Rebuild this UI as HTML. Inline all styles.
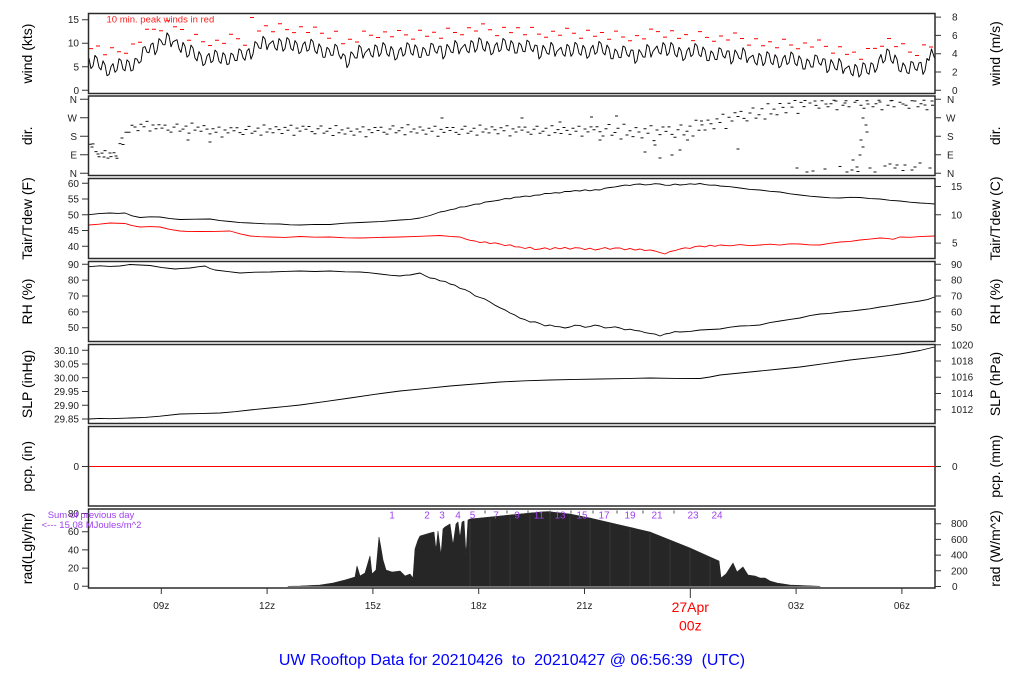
<!DOCTYPE html>
<html><head><meta charset="utf-8">
<style>
html,body{margin:0;padding:0;background:#fff;}
svg{display:block;}
text{font-family:"Liberation Sans",Arial,sans-serif;}
</style></head><body>
<svg width="1024" height="700" viewBox="0 0 1024 700" xmlns="http://www.w3.org/2000/svg">
<rect width="1024" height="700" fill="#fff"/>

<!-- wind peaks (red) -->
<path fill="none" stroke="#ff0000" stroke-width="1" d="M89 48.6h4M96 46h4M103 54.8h4M110 47.8h4M117 51.7h4M124 53.3h4M131 44h4M138 42.3h4M145 29.2h4M152 29.3h4M159 30.7h4M166 20.8h4M173 26.8h4M180 29.5h4M187 40.2h4M194 34.4h4M201 41.7h4M208 45.5h4M215 40.3h4M222 43.4h4M229 34.3h4M236 38.7h4M243 45.3h4M250 17.5h4M257 31h4M264 25.8h4M271 31.7h4M278 23.8h4M285 29.6h4M292 32.6h4M299 26.8h4M306 32.5h4M313 27.1h4M320 33.3h4M327 38.3h4M334 31.2h4M341 43.8h4M348 39.3h4M355 42h4M362 31.1h4M369 35.3h4M376 37.5h4M383 31.9h4M390 36.7h4M397 30.5h4M404 34.9h4M411 39.1h4M418 30.3h4M425 36.3h4M432 32.3h4M439 38.2h4M446 28.3h4M453 32.5h4M460 34.7h4M467 27.8h4M474 31h4M481 23.9h4M488 29.7h4M495 35.6h4M502 27.4h4M509 32.6h4M516 27.8h4M523 34.8h4M530 27.4h4M537 34.1h4M544 37.3h4M551 31.3h4M558 35.3h4M565 28.3h4M572 33.3h4M579 38.3h4M586 30.3h4M593 36.3h4M600 32.5h4M607 39.3h4M614 31.1h4M621 37h4M628 40.8h4M635 35.6h4M642 38.9h4M649 29.1h4M656 31.6h4M663 37.1h4M670 30.7h4M677 38.4h4M684 34.6h4M691 40.6h4M698 31.6h4M705 37.4h4M712 41.2h4M719 36h4M726 40h4M733 33h4M740 38.5h4M747 45.1h4M754 38.8h4M761 45.7h4M768 41.7h4M775 47.7h4M782 39.2h4M789 45h4M796 48.8h4M803 43h4M810 47h4M817 40h4M824 46.4h4M831 53.1h4M838 46.7h4M845 54.4h4M852 52.1h4M859 59.3h4M866 48.5h4M873 48.4h4M880 46.3h4M887 38.5h4M894 46.6h4M901 43.8h4M908 52.1h4M915 55.5h4M922 44.9h4M929 47h4"/>

<!-- wind line -->
<path fill="none" stroke="#000" stroke-width="0.95" stroke-linejoin="round" d="M89 58.2L91 68.6L93 66L95 55.4L97 57.8L99 67.4L101 69.9L103 60.9L105 64.8L107 75.7L109 74.6L111 66.6L113 63.6L115 72.3L117 70L119 58.7L121 60.4L123 69.1L125 70.8L127 59.8L129 61.9L131 71L133 70L135 58.5L137 59.1L139 63.2L141 61.4L143 47.5L145 46.6L147 52.2L149 52.8L151 44.4L153 43L155 54.8L157 50.6L159 38.6L161 40.7L163 44.7L165 44.8L167 32.8L169 35.8L171 46.8L173 41.8L175 40.7L177 39.7L179 48.6L181 52.5L183 42.4L185 46.3L187 57.2L189 55.2L191 45.1L193 48L195 58L197 60.9L199 51.6L201 55.4L203 65.6L205 63.9L207 56.1L209 53.4L211 62.6L213 60.9L215 50.1L217 52.3L219 61.3L221 63.4L223 52.7L225 55.1L227 64.5L229 63.9L231 53.2L233 54.6L235 60.5L237 60.5L239 48.9L241 50.4L243 57.8L245 60.3L247 51L249 48.6L251 59.2L253 53.9L255 41.6L257 43.3L259 47.9L261 48.6L263 36.3L265 39L267 49.7L269 44.4L271 42.5L273 40.7L275 48L277 50.3L279 38.6L281 40.9L283 51.2L285 48.6L287 37.6L289 39.6L291 48.6L293 50.6L295 40.6L297 43.6L299 53.7L301 51.8L303 44.3L305 41.8L307 51.2L309 49.7L311 39.2L313 41.7L315 51.1L317 53.6L319 43.9L321 47.3L323 57.3L325 57.3L327 47.3L329 49.3L331 55.3L333 55.3L335 44.2L337 46.2L339 55L341 58.9L343 53.8L345 55.7L347 67.7L349 63.8L351 51.8L353 53.9L355 57.9L357 58L359 45.2L361 47.5L363 58.2L365 53L367 50.7L369 48.5L371 55.3L373 57.1L375 44.8L377 46.6L379 56.5L381 53.4L383 42.6L385 44.9L387 54.1L389 56.3L391 46.5L393 49.8L395 60L397 58.3L399 50.4L401 47.5L403 56.2L405 54L407 42.7L409 44.5L411 53.3L413 55.1L415 44.8L417 47.6L419 57.4L421 57.3L423 47.3L425 49.3L427 55.3L429 55.3L431 43.3L433 44.3L435 51.3L437 53.3L439 46.2L441 46.2L443 59L445 55.7L447 44.4L449 47.2L451 52L453 52.7L455 40.5L457 43.3L459 54L461 48.8L463 46.5L465 44.3L467 51L469 52.8L471 40.6L473 42.4L475 52.1L477 48.9L479 37.8L481 39.7L483 48.9L485 51.2L487 41.4L489 44.6L491 54.8L493 53.1L495 45.3L497 42.6L499 51.7L501 49.8L503 38.5L505 40.3L507 49L509 50.8L511 40.6L513 43.4L515 53.1L517 52.9L519 42.8L521 44.8L523 51.3L525 51.8L527 40.2L529 41.7L531 49.2L533 51.7L535 45.1L537 45.6L539 59L541 56.3L543 45.3L545 48.3L547 53.3L549 54.3L551 42.3L553 45.3L555 56.3L557 51.3L559 49.3L561 47.3L563 54.3L565 56.3L567 44.3L569 46.3L571 56.3L573 53.3L575 42.3L577 44.3L579 53.3L581 55.3L583 45.3L585 48.3L587 58.3L589 56.3L591 48.3L593 45.3L595 54.3L597 52.3L599 41.4L601 43.4L603 52.7L605 54.9L607 45.1L609 48.3L611 58.6L613 58.8L615 49.1L617 51.3L619 57.5L621 57.7L623 46L625 47.2L627 54.5L629 56.7L631 50L633 50.2L635 63.4L637 60.6L639 49.6L641 52.6L643 56.9L645 57.2L647 44.5L649 46.8L651 57.1L653 51.4L655 48.7L657 46L659 52.6L661 54.1L663 42.6L665 45.1L667 55.6L669 53L671 42.5L673 45L675 54.5L677 56.9L679 47.3L681 50.6L683 60.6L685 58.6L687 50.6L689 47.6L691 56.6L693 54.6L695 43.6L697 45.6L699 54.7L701 56.7L703 47L705 50.2L707 60.5L709 60.7L711 51L713 53.2L715 59.4L717 59.6L719 47.8L721 49L723 56L725 58L727 51L729 51L731 64L733 61L735 50L737 53L739 58.1L741 59.2L743 47.7L745 51.2L747 62.7L749 58.1L751 56.6L753 55.1L755 62.6L757 65L759 53.4L761 55.7L763 65.7L765 62.7L767 51.7L769 53.7L771 62.7L773 64.7L775 54.7L777 57.7L779 67.8L781 65.8L783 58.1L785 55.3L787 64.5L789 62.7L791 52L793 54.2L795 63.5L797 65.7L799 55.9L801 59L803 69L805 69L807 59L809 61L811 67L813 67L815 55L817 56L819 63.1L821 65.2L823 58.7L825 59.2L827 72.7L829 70.1L831 59.6L833 63.1L835 68.6L837 70L839 58.5L841 62L843 73.5L845 68.9L847 67.4L849 65.9L851 73.4L853 75.8L855 64.3L857 66.8L859 77L861 74.3L863 62.8L865 64.3L867 72.8L869 74.3L871 62.8L873 64.3L875 72.4L877 68.5L879 59L881 54.5L883 63L885 60.5L887 49L889 50.5L891 60.5L893 63.4L895 54.9L897 59.3L899 70.6L901 71.9L903 62.9L905 65.8L907 72.7L909 73.6L911 61.5L913 62.4L915 69L917 70.5L919 62.9L921 62.3L923 74.4L925 70.4L927 58.5L929 60.5L931.5 49L934.5 58"/>

<!-- direction dashes -->
<path fill="none" stroke="#111" stroke-width="1" d="M88.8 144.2h3M91.5 143.9h3M94.5 151.6h3M97.5 156.8h3M100.5 153.1h3M103.5 150.6h3M106.5 158.1h3M109.5 156.6h3M112.5 152.8h3M115.5 158.2h3M118.5 143.6h3M121.5 144.5h3M124.5 132.2h3M127.5 132.3h3M130.5 125.2h3M133.5 127h3M136.5 130.6h3M139.5 124.2h3M142.5 126.8h3M145.5 121.4h3M148.5 131h3M151.5 125h3M154.5 128.8h3M157.5 124.8h3M160.5 128.1h3M163.5 125.1h3M166.5 130.1h3M169.5 132.1h3M172.5 127.1h3M175.5 124.1h3M178.5 131.1h3M181.5 129.1h3M184.5 126.1h3M187.5 133.1h3M190.5 123.1h3M193.5 130.1h3M196.5 127.1h3M199.5 131.2h3M202.5 125.6h3M205.5 129.1h3M208.5 133.9h3M211.5 128.7h3M214.5 132.2h3M217.5 127.1h3M220.5 137h3M223.5 130h3M226.5 132.9h3M229.5 127.8h3M232.5 130.7h3M235.5 127.7h3M238.5 132.6h3M241.5 134.5h3M244.5 129.5h3M247.5 126.4h3M250.5 133.3h3M253.5 131.2h3M256.5 128.1h3M259.5 135.1h3M262.5 125h3M265.5 132h3M268.5 128.9h3M271.5 132.8h3M274.5 126.7h3M277.5 129.6h3M280.5 133.5h3M283.5 127.4h3M286.5 130.3h3M289.5 125.3h3M292.5 135.2h3M295.5 128.1h3M298.5 131.1h3M301.5 126.2h3M304.5 129.3h3M307.5 126.5h3M310.5 131.6h3M313.5 133.7h3M316.5 128.8h3M319.5 126h3M322.5 133.1h3M325.5 131.2h3M328.5 128.4h3M331.5 135.5h3M334.5 125.6h3M337.5 132.7h3M340.5 129.9h3M343.5 134h3M346.5 128.1h3M349.5 131.2h3M352.5 135.1h3M355.5 129h3M358.5 131.9h3M361.5 126.9h3M364.5 136.8h3M367.5 129.7h3M370.5 132.6h3M373.5 127.5h3M376.5 130.5h3M379.5 127.3h3M382.5 132.2h3M385.5 134.1h3M388.5 129h3M391.5 125.9h3M394.5 132.8h3M397.5 130.7h3M400.5 127.7h3M403.5 134.8h3M406.5 124.8h3M409.5 131.9h3M412.5 129h3M415.5 133h3M418.5 127h3M421.5 130.1h3M424.5 134.1h3M427.5 128.2h3M430.5 131.2h3M433.5 126.3h3M436.5 136.3h3M439.5 129.4h3M442.5 132.4h3M445.5 127.5h3M448.5 130.5h3M451.5 127.5h3M454.5 132.4h3M457.5 134.4h3M460.5 129.3h3M463.5 126.3h3M466.5 133.3h3M469.5 131.2h3M472.5 128.2h3M475.5 135.1h3M478.5 125.1h3M481.5 132h3M484.5 129h3M487.5 132.9h3M490.5 126.9h3M493.5 129.8h3M496.5 133.7h3M499.5 127.7h3M502.5 130.7h3M505.5 125.8h3M508.5 135.9h3M511.5 128.9h3M514.5 132h3M517.5 127h3M520.5 130.1h3M523.5 127.1h3M526.5 132.1h3M529.5 134.2h3M532.5 129.2h3M535.5 126.2h3M538.5 133.2h3M541.5 131.2h3M544.5 128.2h3M547.5 135.2h3M550.5 125.7h3M553.5 132.6h3M556.5 129.6h3M559.5 133.5h3M562.5 127.5h3M565.5 130.4h3M568.5 134.4h3M571.5 128.3h3M574.5 131.2h3M577.5 126.2h3M580.5 136.1h3M583.5 129h3M586.5 131.9h3M589.5 126.9h3M592.5 129.8h3M595.5 126.8h3M598.5 131.7h3M601.5 136h3M604.5 128.7h3M607.5 124.5h3M610.5 135.2h3M613.5 132.5h3M616.5 128.2h3M619.5 139h3M622.5 124.2h3M625.5 135h3M628.5 130.7h3M631.5 136.6h3M634.5 127.6h3M637.5 132h3M640.5 137.9h3M643.5 128.8h3M646.5 133.3h3M649.5 125.7h3M652.5 140.6h3M655.5 130h3M658.5 134.6h3M661.5 127h3M664.5 131.4h3M667.5 126.9h3M670.5 134.4h3M673.5 137.3h3M676.5 129.7h3M679.5 125h3M682.5 134.9h3M685.5 131.3h3M688.5 126.1h3M691.5 136h3M694.5 120.3h3M697.5 130.2h3M700.5 124.9h3M703.5 130h3M706.5 120.1h3M709.5 123.7h3M712.5 128.8h3M715.5 118.9h3M718.5 122.5h3M721.5 114.3h3M724.5 128.5h3M727.5 117.3h3M730.5 121h3M733.5 112.8h3M736.5 116.5h3M739.5 111.4h3M742.5 118.4h3M745.5 120.9h3M748.5 113h3M751.5 108h3M754.5 118.1h3M757.5 114.7h3M760.5 108.8h3M763.5 119h3M766.5 103.7h3M769.5 113.9h3M772.5 109.1h3M775.5 114.8h3M778.5 103.5h3M781.5 107.4h3M784.5 112.8h3M787.5 103.2h3M790.5 107.1h3M793.5 100.5h3M796.5 113.4h3M799.5 102.4h3M802.5 106.6h3M805.5 172h3M808.5 103h3M811.5 171h3M814.5 105.4h3M817.5 108.1h3M820.5 100.8h3M823.5 169h3M826.5 106.8h3M829.5 103.8h3M832.5 100.3h3M835.5 109.8h3M838.5 166.5h3M841.5 105.3h3M844.5 100.8h3M847.5 106.8h3M850.5 170h3M853.5 102.3h3M856.5 171.5h3M859.5 105.3h3M862.5 108.3h3M865.5 100.8h3M868.5 168h3M871.5 106.8h3M874.5 103.8h3M877.5 100.3h3M880.5 109.8h3M883.5 166h3M886.5 105.3h3M889.5 100.8h3M892.5 106.8h3M895.5 165h3M898.5 102.3h3M901.5 170.5h3M904.5 105.3h3M907.5 108.3h3M910.5 100.8h3M913.5 167h3M916.5 106.8h3M919.5 103.8h3M922.5 100.3h3M925.5 109.8h3M928.5 168h3M931 105.3h3M861.5 118h3M865.5 132h3M861.5 147h3M858.5 155h3M851.5 160h3M855.5 167h3M864.5 125h3M859.5 140h3M795.5 168h3M805.5 172h3M845.5 172h3M736.5 149h3M643.5 152h3M658.5 158h3M670.5 155h3M653.5 145h3M678.5 150h3M208.5 142h3M186.5 140h3M598.5 140h3M558.5 122h3M888.5 164h3M893.5 168h3M903.5 165h3M910.5 170h3M873.5 172h3M918.5 163h3M803.5 100.5h3M813.5 101h3M824.5 104h3M834.5 101h3M843.5 103h3M855.5 100.5h3M866.5 104h3M878.5 102h3M890.5 100.5h3M901.5 104h3M913.5 101h3M923.5 105h3M930.5 101h3M90.5 147h3M96.5 154h3M102.5 157h3M108.5 153h3M114.5 156h3M120.5 138h3M440.5 118h3M520.5 118h3M590 117h3M615 116h3M700 121h3M686 140h3"/>

<!-- Tair -->
<path fill="none" stroke="#000" stroke-width="0.9" stroke-linejoin="round" d="M89 214.7L99 213.6L110 213L118 213.4L125 213L132 215.8L140 217.5L150 216.8L160 217L170 218.6L180 219.5L195 219.2L210 219L220 220.6L230 221.5L240 222.6L250 223L265 223.8L280 224L290 224.8L300 225L315 224.4L330 224.5L345 223.2L360 222.5L380 221.6L400 220L410 219.4L420 218L430 215.5L440 212L445 211.2L450 209.8L455 208.9L460 207L465 206.8L470 205.6L475 204.2L480 204L485 202.1L490 201.5L495 200.8L500 200L505 198.6L510 198.8L515 197.2L520 197L525 196.1L530 196.4L535 195.2L540 195L545 193.4L550 193.6L555 192.7L560 193L565 191.4L570 191.5L575 190.6L580 191L585 189.8L590 190.8L595 189.7L600 190L605 188.2L610 187.5L615 186.9L620 186L625 185.1L630 185.4L635 184.3L640 184L645 184.9L650 184.6L655 183.7L660 184L665 185.2L670 185.3L675 184.1L680 185L685 184.6L690 183.8L695 184.3L700 183.5L705 184.6L710 185.2L715 185.1L720 186L730 186.7L740 188L750 189.4L760 190L770 191.3L780 192L790 193.8L800 195L810 196.2L820 197L830 197.8L840 198L850 197.3L860 197.5L870 198.6L880 199L890 200.3L900 201L910 202.2L920 203L928 203.4L934.5 204"/>

<!-- Tdew -->
<path fill="none" stroke="#ff0000" stroke-width="0.9" stroke-linejoin="round" d="M89 225L99 224.2L110 223L125 223.5L132 225.6L140 227L150 226.6L160 227L170 229.4L180 231L190 231.6L200 231.5L215 231.4L230 231L240 233.8L250 236L260 236.7L270 237L285 237.4L300 236.5L315 237.2L330 237L345 237.8L360 238L380 237.4L400 237L420 236.3L440 235.5L450 236.4L460 237L465 238.8L470 240.3L475 241L480 242.6L485 241.8L490 243.6L495 242.8L500 244L505 245.6L510 244.8L515 246.8L520 247L525 248.5L530 247.2L535 249.6L540 249L545 247.8L550 249.5L555 247.6L560 248.8L565 247.4L570 249.2L575 247.7L580 248L585 249.6L590 248.2L595 250L600 249L605 247.6L610 249.3L615 247.9L620 248L625 249.8L630 248.4L635 250.1L640 249L645 250.6L650 249.9L655 251L660 252.6L665 254L670 251.5L675 250.6L680 249L685 247.8L690 248.4L695 246.6L700 246L705 246.9L710 245.2L715 246.3L720 245L730 245.8L740 244.6L750 245.7L760 245L770 244.2L780 245.1L790 243.8L800 244L810 244.9L820 245L830 243.3L840 242L850 241.4L860 240L870 239.1L880 238L887 238.4L893 239.3L900 237L910 237.3L920 236.6L934.5 236"/>

<!-- RH -->
<path fill="none" stroke="#000" stroke-width="0.9" stroke-linejoin="round" d="M89 266.7L100 265.8L110 266.4L120 266L130 264.5L140 265L150 265.5L162 267.6L175 269L182 268.4L190 268L198 266.8L205 266L210 268.5L215 270L228 271.6L240 273L255 272.2L270 272L285 271.4L300 271L315 271.5L330 271L345 271.8L360 272L370 272.8L380 274L390 275.2L400 276L405 275.2L410 275L415 274L420 273L425 275.6L430 278L435 278.6L440 280.8L445 281.4L450 284L455 285.2L460 288.4L465 289.6L470 292L475 295.8L480 297.5L485 299.1L490 302L495 305.2L500 307.8L505 309.9L510 313L515 315.1L520 318.2L525 319.6L530 322L535 321.8L540 323.6L545 325.9L550 325L555 326.4L560 326.8L565 328L570 327L575 325.2L580 325.6L585 327.3L590 326.6L595 325.1L600 326L605 327.9L610 327.6L615 326.8L620 328L625 329.8L630 329.2L635 330.4L640 331L645 332.6L650 333.4L655 334.1L660 336L665 334L670 333.2L675 331.6L680 332L690 331.4L700 330L710 329.5L720 329L730 327.2L740 326L750 325.7L760 325L770 322.6L780 321L790 319.4L800 318L810 315.6L820 314L830 313.4L840 312L850 311.2L860 310L870 308.8L880 307L890 305.7L900 304L910 302.6L920 301L928 299.4L934.5 297"/>

<!-- SLP -->
<path fill="none" stroke="#000" stroke-width="0.9" stroke-linejoin="round" d="M89 419L100 418.4L110 418.7L130 418L145 417.4L160 416.2L180 414L200 413.6L220 413L235 411.7L250 410L270 408L285 406.6L300 405L325 401.6L350 398L375 394.3L400 391L425 388.6L450 386L475 384L500 382L525 380.8L550 380L575 379.4L600 379L625 378.6L650 378L675 378.4L700 378.5L710 377L720 375L740 373L760 371L780 369L800 367L825 363.6L850 360L875 357.2L900 354L920 350.5L934.5 347"/>

<!-- radiation -->
<path fill="#262626" stroke="#262626" stroke-width="0.6" stroke-linejoin="round" d="M288 586.3L300 586L320 585L333 583L345 580L355 577L357 566L360 576L365 573L370 556L372 574L376 570L379 537L381 548L383 560L386 570L392 572L400 571L405 576L410 574L413 578L415 549L418 540L420 536L430 533L434 532L436 550L438 531L441 555L443 529L445 527L450 524L453 545L456 524L458 522L460 538L462 522L464 521L466 555L468 520L470 519L500 516L520 514L540 512L548 511.5L570 514L590 518L620 525L650 532L670 540L690 548L710 557L719 561L721 578L726 574L733 563L737 572L743 567L748 575L755 576L760 578L765 578L770 581L777 583L790 585L820 586.3Z"/>
<path fill="none" stroke="#4a4a4a" stroke-width="0.5" d="M470 521V586M490 519V586M510 517V586M530 515V586M550 514V586M570 516V586M590 520V586M610 524V586M630 529V586M650 534V586M670 542V586M690 550V586M710 559V586"/>

<!-- panel boxes -->
<g fill="none" stroke="#2a2a2a" stroke-width="1.5">
<rect x="88.5" y="13.5" width="846.5" height="80"/>
<rect x="88.5" y="96" width="846.5" height="79.5"/>
<rect x="88.5" y="178.5" width="846.5" height="80"/>
<rect x="88.5" y="261.5" width="846.5" height="80"/>
<rect x="88.5" y="344.5" width="846.5" height="79"/>
<rect x="88.5" y="426.5" width="846.5" height="79.5"/>
<rect x="88.5" y="509" width="846.5" height="79"/>
</g>

<!-- pcp line -->
<line x1="89" y1="466.5" x2="935" y2="466.5" stroke="#ff0000" stroke-width="1"/>

<!-- left ticks -->
<g stroke="#333" stroke-width="1">
<path d="M82 90.3H88.5M82 66.75H88.5M82 43.2H88.5M82 19.7H88.5"/>
<path d="M80 173.3H88.5M80 154.8H88.5M80 136.3H88.5M80 117.8H88.5M80 99.3H88.5"/>
<path d="M82 246.3H88.5M82 230.55H88.5M82 214.8H88.5M82 199.05H88.5M82 183.3H88.5"/>
<path d="M82 327.7H88.5M82 311.85H88.5M82 296H88.5M82 280.15H88.5M82 264.3H88.5"/>
<path d="M82 419H88.5M82 405.3H88.5M82 391.5H88.5M82 377.8H88.5M82 364H88.5M82 350.3H88.5"/>
<path d="M82 466.5H88.5"/>
<path d="M82 586.3H88.5M82 568.1H88.5M82 549.9H88.5M82 531.7H88.5M82 513.5H88.5"/>
</g>
<!-- right ticks -->
<g stroke="#333" stroke-width="1">
<path d="M935 90.3H941M935 72H941M935 53.7H941M935 35.4H941M935 17.1H941"/>
<path d="M935 173.3H941M935 154.8H941M935 136.3H941M935 117.8H941M935 99.3H941"/>
<path d="M935 243.15H941M935 214.8H941M935 186.45H941"/>
<path d="M935 327.7H941M935 311.85H941M935 296H941M935 280.15H941M935 264.3H941"/>
<path d="M935 409.7H941M935 393.5H941M935 377.2H941M935 361H941M935 344.8H941"/>
<path d="M935 466.5H941"/>
<path d="M935 586.5H941M935 570.8H941M935 555.1H941M935 539.4H941M935 523.7H941"/>
</g>
<!-- bottom ticks -->
<g stroke="#333" stroke-width="1">
<path d="M161.3 588V594M267.1 588V594M372.9 588V594M478.7 588V594M584.5 588V594M690.3 588V598M796.1 588V594M901.9 588V594"/>
</g>

<!-- left tick labels -->
<g font-size="10" fill="#222" text-anchor="end">
<text x="79" y="93.8">0</text><text x="79" y="70.25">5</text><text x="79" y="46.7">10</text><text x="79" y="23.2">15</text>
<text x="77" y="176.8">N</text><text x="77" y="158.3">E</text><text x="77" y="139.8">S</text><text x="77" y="121.3">W</text><text x="77" y="102.8">N</text>
<text x="79" y="249.8">40</text><text x="79" y="234.05">45</text><text x="79" y="218.3">50</text><text x="79" y="202.55">55</text><text x="79" y="186.8">60</text>
<text x="79" y="331.2">50</text><text x="79" y="315.35">60</text><text x="79" y="299.5">70</text><text x="79" y="283.65">80</text><text x="79" y="267.8">90</text>
<text x="79" y="422.5">29.85</text><text x="79" y="408.8">29.90</text><text x="79" y="395">29.95</text><text x="79" y="381.3">30.00</text><text x="79" y="367.5">30.05</text><text x="79" y="353.8">30.10</text>
<text x="79" y="470">0</text>
<text x="79" y="589.8">0</text><text x="79" y="571.6">20</text><text x="79" y="553.4">40</text><text x="79" y="535.2">60</text><text x="79" y="517">80</text>
</g>
<!-- right tick labels -->
<g font-size="10" fill="#222" text-anchor="start">
<text x="952" y="93.8">0</text><text x="952" y="75.5">2</text><text x="952" y="57.2">4</text><text x="952" y="38.9">6</text><text x="952" y="20.6">8</text>
<text x="947" y="176.8">N</text><text x="947" y="158.3">E</text><text x="947" y="139.8">S</text><text x="946" y="121.3">W</text><text x="947" y="102.8">N</text>
<text x="952" y="246.65">5</text><text x="951" y="218.3">10</text><text x="951" y="189.95">15</text>
<text x="951" y="331.2">50</text><text x="951" y="315.35">60</text><text x="951" y="299.5">70</text><text x="951" y="283.65">80</text><text x="951" y="267.8">90</text>
<text x="951" y="413.2">1012</text><text x="951" y="397">1014</text><text x="951" y="380.7">1016</text><text x="951" y="364.5">1018</text><text x="951" y="348.3">1020</text>
<text x="952" y="470">0</text>
<text x="952" y="590">0</text><text x="951" y="574.3">200</text><text x="951" y="558.6">400</text><text x="951" y="542.9">600</text><text x="951" y="527.2">800</text>
</g>

<!-- axis titles -->
<g font-size="14" fill="#000" text-anchor="middle">
<text transform="translate(32,53.5) rotate(-90)">wind (kts)</text>
<text transform="translate(32,135.8) rotate(-90)">dir.</text>
<text transform="translate(32,218.5) rotate(-90)">Tair/Tdew (F)</text>
<text transform="translate(32,301.5) rotate(-90)">RH (%)</text>
<text transform="translate(32,384) rotate(-90)">SLP (inHg)</text>
<text transform="translate(32,466.3) rotate(-90)">pcp. (in)</text>
<text transform="translate(32,548.5) rotate(-90)">rad(Lgly/hr)</text>
<text transform="translate(1000,53.5) rotate(-90)">wind (m/s)</text>
<text transform="translate(1000,135.8) rotate(-90)">dir.</text>
<text transform="translate(1000,218.5) rotate(-90)">Tair/Tdew (C)</text>
<text transform="translate(1000,301.5) rotate(-90)">RH (%)</text>
<text transform="translate(1000,384) rotate(-90)">SLP (hPa)</text>
<text transform="translate(1000,466.3) rotate(-90)">pcp. (mm)</text>
<text transform="translate(1000,548.5) rotate(-90)">rad (W/m^2)</text>
</g>

<!-- x labels -->
<g font-size="10" fill="#222" text-anchor="middle">
<text x="161.3" y="609">09z</text><text x="267.1" y="609">12z</text><text x="372.9" y="609">15z</text>
<text x="478.7" y="609">18z</text><text x="584.5" y="609">21z</text>
<text x="796.1" y="609">03z</text><text x="901.9" y="609">06z</text>
</g>
<g font-size="14" fill="#ff0000" text-anchor="middle">
<text x="690.3" y="612">27Apr</text>
<text x="690.3" y="630.5">00z</text>
</g>

<text x="512" y="665" font-size="16" fill="#0000ff" text-anchor="middle" style="white-space:pre" xml:space="preserve">UW Rooftop Data for 20210426  to  20210427 @ 06:56:39  (UTC)</text>

<text x="106.5" y="22.5" font-size="9.5" fill="#ff2020">10 min. peak winds in red</text>

<!-- radiation annotations -->
<g font-size="9.5" fill="#a040f0" text-anchor="middle">
<text x="91" y="518">Sum of previous day</text>
<text x="91.5" y="528">&lt;--- 15.08 MJoules/m^2</text>
</g>
<g font-size="10" fill="#a040f0" text-anchor="middle">
<text x="392" y="518.3">1</text><text x="427" y="518.3">2</text><text x="442" y="518.3">3</text><text x="458" y="518.3">4</text>
<text x="472.5" y="518.3">5</text><text x="496" y="518.3">7</text><text x="517" y="518.3">9</text><text x="539" y="518.3">11</text>
<text x="560" y="518.3">13</text><text x="582" y="518.3">15</text><text x="604" y="518.3">17</text><text x="630" y="518.3">19</text>
<text x="657" y="518.3">21</text><text x="693" y="518.3">23</text><text x="717" y="518.3">24</text>
</g>
<g stroke="#555" stroke-width="1">
<path d="M485 510.5v3M507 510.5v3M528 510.5v3M550 510.5v3M571 510.5v3M593 510.5v3M617 510.5v3M643 510.5v3M674 510.5v3"/>
</g>
</svg>
</body></html>
